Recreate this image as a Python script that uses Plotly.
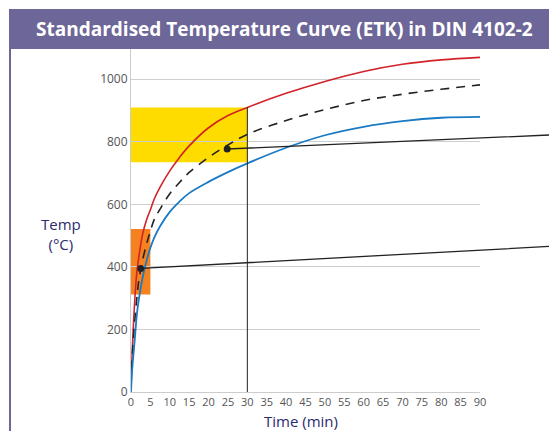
import plotly.graph_objects as go

# time axis (min) and curve values (deg C)
time_min = [0, 0.25, 0.5, 1, 1.5, 2, 3, 4, 5, 6, 7.5, 10, 12.5, 15, 20, 25, 30, 40, 50, 60, 70, 80, 90]
upper_temp = [20, 106, 182, 300, 382, 430, 505, 550, 583, 617, 655, 707, 750, 787, 845, 884, 910, 955, 993, 1025, 1048, 1062, 1070]
etk_temp = [20, 95, 150, 232, 300, 355, 422, 472, 515, 552, 585, 634, 670, 702, 750, 790, 824, 868, 903, 932, 952, 968, 982]
lower_temp = [0, 62, 102, 172, 247, 295, 366, 419, 461, 494, 530, 576, 609, 636, 672, 703, 731, 781, 821, 848, 866, 877, 880]

# highlighted bands: (t0, t1, T0, T1)
band_yellow = [0, 30, 735, 910]
band_orange = [0, 5, 312, 521]
marker_line_t = 30
marker_line_top = 910

# callout points and where their leader lines go
callout_t = [2.5, 24.8]
callout_temp = [395, 777]
callout_end_t = [110, 110]
callout_end_temp = [467, 823]

x_ticks = list(range(0, 95, 5))
y_ticks = [0, 200, 400, 600, 800, 1000]

W, H = 557, 431
OFF = 8  # page body margin
L, T = 131 - OFF, 48 - OFF
PW, PH = 349, 344
R, B = W - L - PW, H - T - PH
PURPLE = '#6d6698'
NAVY = '#2c2a6e'


# screen pixel -> paper coords
def px_x(p):
    return (p - OFF - L) / PW


def px_y(p):
    return (T + PH - (p - OFF)) / PH


fig = go.Figure()

fig.add_trace(go.Scatter(x=time_min, y=upper_temp, mode='lines', line=dict(color='#d2232a', width=1.6, shape='spline')))
fig.add_trace(go.Scatter(x=time_min, y=etk_temp, mode='lines', line=dict(color='#222222', width=1.6, dash='9px,7px', shape='spline')))
fig.add_trace(go.Scatter(x=time_min, y=lower_temp, mode='lines', line=dict(color='#1a7ac4', width=1.8, shape='spline')))
fig.add_trace(go.Scatter(x=callout_t, y=callout_temp, mode='markers', marker=dict(color='#222222', size=7), cliponaxis=False))

shapes = [
    dict(type='rect', xref='x', yref='y', x0=band_yellow[0], x1=band_yellow[1], y0=band_yellow[2], y1=band_yellow[3],
         fillcolor='#ffdc00', line=dict(width=0), layer='below'),
    dict(type='rect', xref='x', yref='y', x0=band_orange[0], x1=band_orange[1], y0=band_orange[2], y1=band_orange[3],
         fillcolor='#f5821f', line=dict(width=0), layer='below'),
    dict(type='line', xref='x', yref='y', x0=marker_line_t, x1=marker_line_t, y0=0, y1=marker_line_top,
         line=dict(color='#222222', width=1)),
    # title bar and left border
    dict(type='rect', xref='paper', yref='paper', x0=px_x(9), x1=px_x(W + 10), y0=px_y(49), y1=px_y(9),
         fillcolor=PURPLE, line=dict(width=0)),
    dict(type='line', xref='paper', yref='paper', x0=px_x(10), x1=px_x(10), y0=px_y(49), y1=px_y(H + 10),
         line=dict(color=PURPLE, width=2)),
]

annotations = [
    dict(xref='paper', yref='paper', x=px_x(284), y=px_y(29), text='<b>Standardised Temperature Curve (ETK) in DIN 4102-2</b>',
         showarrow=False, xanchor='center', yanchor='middle', font=dict(family='Open Sans', size=19, color='white')),
    dict(xref='paper', yref='paper', x=px_x(61), y=px_y(234), text='Temp<br>(°C)', showarrow=False,
         xanchor='center', yanchor='middle', font=dict(family='Open Sans', size=15, color=NAVY)),
    dict(xref='paper', yref='paper', x=px_x(301), y=px_y(421), text='Time (min)', showarrow=False,
         xanchor='center', yanchor='middle', font=dict(family='Open Sans', size=15, color=NAVY)),
]
for t, temp, et, etemp in zip(callout_t, callout_temp, callout_end_t, callout_end_temp):
    annotations.append(dict(x=t, y=temp, xref='x', yref='y', ax=et, ay=etemp, axref='x', ayref='y', text='',
                            showarrow=True, arrowhead=0, arrowwidth=1.3, arrowcolor='#222222', standoff=0))

fig.update_layout(
    width=W, height=H,
    margin=dict(l=L, r=R, t=T, b=B),
    paper_bgcolor='white', plot_bgcolor='white',
    showlegend=False,
    shapes=shapes,
    annotations=annotations,
    font=dict(family='Open Sans', size=11, color='#555555'),
    xaxis=dict(range=[0, 90], tickvals=x_ticks, showgrid=False, zeroline=False, showline=True,
               linecolor='#cccccc', linewidth=1, ticks='', tickfont=dict(size=11)),
    yaxis=dict(range=[0, 1100], tickvals=y_ticks, showgrid=True, gridcolor='#cfcfcf', gridwidth=1, zeroline=False,
               showline=True, linecolor='#cccccc', linewidth=1, ticks='', tickfont=dict(size=12)),
)

fig.write_html("out.html")
